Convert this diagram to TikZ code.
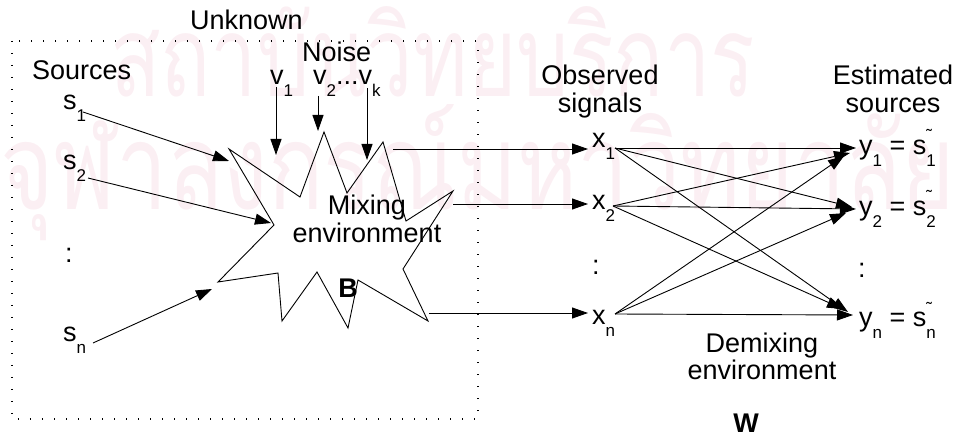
\documentclass[tikz,border=0pt]{standalone}
\usepackage{graphicx}
\usepackage{fontspec}
\setmainfont{Liberation Sans}
\newfontfamily\thaifont[Script=Thai]{Loma}
\usetikzlibrary{arrows.meta}
% lowered subscript and subscript with a small tilde above it
\newcommand\lo[1]{\lower 12pt\hbox{\fontsize{17}{17}\selectfont #1}}
\newcommand\tl[1]{\rlap{\raise 13pt\hbox{\fontsize{17}{17}\selectfont\char"02DC}}\lo{#1}}
\definecolor{wmpink}{RGB}{251,239,243}
\begin{document}
\begin{tikzpicture}[x=1pt,y=-1pt,
  font=\fontsize{27}{28}\selectfont,
  lbl/.style={anchor=base west, inner sep=0pt},
  ctr/.style={anchor=base, inner sep=0pt, align=center},
  wire/.style={line width=0.9pt},
  arr/.style={line width=0.9pt, -{Triangle[length=16pt,width=11pt]}},
  dotbox/.style={line width=1.3pt, dash pattern=on 1.3pt off 10.7pt}]
\useasboundingbox (0,0) rectangle (959,438);

% background seal text
\node[lbl, text=wmpink] (wm1) at (110,97)
  {\resizebox{645pt}{90pt}{\thaifont สถาบันวิทยบริการ}};
\node[lbl, text=wmpink] (wm2) at (0,210)
  {\resizebox{955pt}{105pt}{\thaifont จุฬาลงกรณ์มหาวิทยาลัย}};

% unknown part of the system
\draw[dotbox] (12,41) rectangle (478,419);
\node[lbl] (unknown) at (190,30) {Unknown};
\node[lbl] (sources) at (32,80) {Sources};
\node[lbl] (noise) at (302,62) {Noise};

% mixing environment
\draw[wire] (229,149) -- (300,197) -- (324,132) -- (347,193) -- (383,142)
  -- (406,221) -- (453,191) -- (403,269) -- (428,321) -- (358,280)
  -- (348,328) -- (317,272) -- (282,321) -- (278,273) -- (218,282)
  -- (274,225) -- cycle;
\node[ctr] (mix) at (367,243) {Mixing\\environment};
\node[ctr] (B) at (348,298) {\bfseries B};

% sources
\node[lbl] (s1) at (63,110) {s\lo{1}};
\node[lbl] (s2) at (63,170) {s\lo{2}};
\node[lbl] (sdots) at (65,263) {:};
\node[lbl] (sn) at (63,342) {s\lo{n}};
\coordinate (s1o) at (83,112);
\coordinate (s2o) at (88,178);
\coordinate (sno) at (93,343);
\coordinate (m1) at (229,161);
\coordinate (m2) at (271,223);
\coordinate (mn) at (212,289);
\draw[arr] (s1o) -- (m1);
\draw[arr] (s2o) -- (m2);
\draw[arr] (sno) -- (mn);

% noise
\node[lbl] (v1) at (270,85) {v\lo{1}};
\node[lbl] (vk) at (313,85) {v\lo{2}...v\lo{k}};
\coordinate (v1o) at (276,87);
\coordinate (v2o) at (318,96);
\coordinate (vko) at (367,88);
\coordinate (n1) at (276,155);
\coordinate (n2) at (318,131);
\coordinate (nk) at (367,160);
\draw[arr] (v1o) -- (n1);
\draw[arr] (v2o) -- (n2);
\draw[arr] (vko) -- (nk);

% observed signals
\node[ctr] (obs) at (600,113) {Observed\\signals};
\node[lbl] (x1) at (592,148) {x\lo{1}};
\node[lbl] (x2) at (592,210) {x\lo{2}};
\node[lbl] (xdots) at (592,275) {:};
\node[lbl] (xn) at (592,325) {x\lo{n}};
\coordinate (o1) at (393,149);
\coordinate (o2) at (453,204);
\coordinate (on) at (429,313);
\coordinate (x1i) at (588,149);
\coordinate (x2i) at (588,204);
\coordinate (xni) at (588,313);
\draw[arr] (o1) -- (x1i);
\draw[arr] (o2) -- (x2i);
\draw[arr] (on) -- (xni);

% estimated sources
\node[ctr] (est) at (893,113) {Estimated\\sources};
\node[lbl] (y1) at (859,155) {y\lo{1} = s\tl{1}};
\node[lbl] (y2) at (859,216) {y\lo{2} = s\tl{2}};
\node[lbl] (ydots) at (858,278) {:};
\node[lbl] (yn) at (859,327) {y\lo{n} = s\tl{n}};

% demixing environment
\coordinate (x1o) at (615,148);
\coordinate (x2o) at (613,206);
\coordinate (xno) at (615,314);
\coordinate (y1a) at (856,148);
\coordinate (y1b) at (850,153);
\coordinate (y1c) at (844,156);
\coordinate (y2a) at (856,209);
\coordinate (y2b) at (852,207);
\coordinate (y2c) at (846,213);
\coordinate (yna) at (853,315);
\coordinate (ynb) at (848,312);
\coordinate (ync) at (843,309);
\draw[arr] (x1o) -- (y1a);
\draw[arr] (x1o) -- (y2b);
\draw[arr] (x1o) -- (ynb);
\draw[arr] (x2o) -- (y1b);
\draw[arr] (x2o) -- (y2a);
\draw[arr] (x2o) -- (ync);
\draw[arr] (xno) -- (y1c);
\draw[arr] (xno) -- (y2c);
\draw[arr] (xno) -- (yna);
\node[ctr] (demix) at (762,380) {Demixing\\environment};
\node[ctr] (W) at (746,432) {\bfseries W};
\end{tikzpicture}
\end{document}
